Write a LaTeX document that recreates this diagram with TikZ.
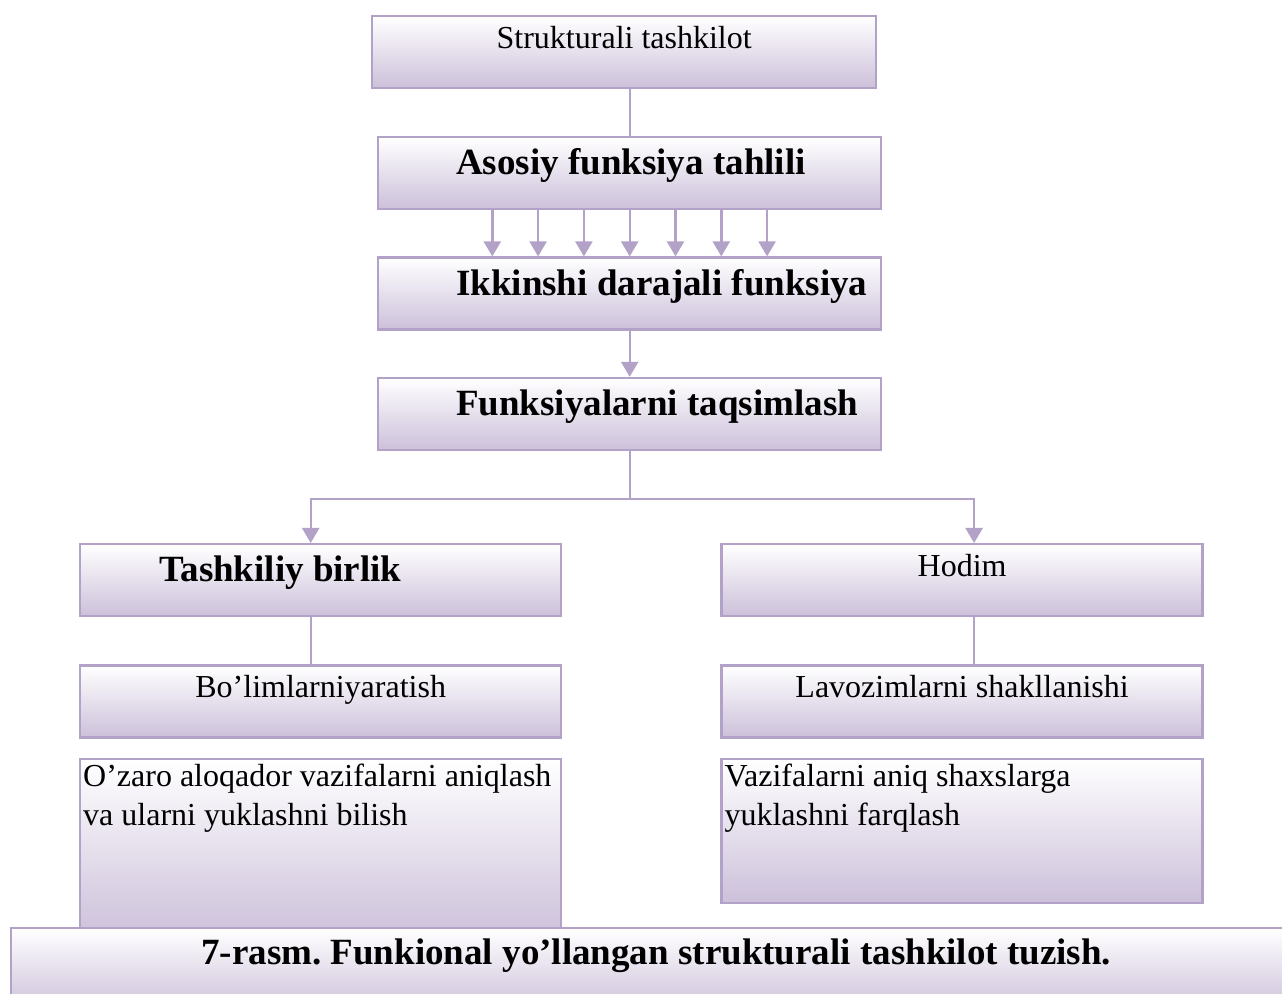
\documentclass[tikz,border=0pt]{standalone}
\usepackage{fontspec}
\setmainfont{Liberation Serif}
\usepackage{tikz}
\usetikzlibrary{arrows.meta, positioning}
\definecolor{lavline}{RGB}{178, 162, 199}
\definecolor{lavfill}{RGB}{204, 192, 218}
\frenchspacing

\begin{document}
\begin{tikzpicture}[
    box/.style={draw=lavline, line width=1.2pt, top color=white, bottom color=lavfill,
                inner sep=0pt, anchor=north west, minimum height=36pt},
    plainbox/.style={box, font=\fontsize{16}{19}\selectfont, text height=16pt, text depth=20pt},
    headbox/.style={box, font=\fontsize{18.5}{22}\selectfont\bfseries, align=flush left,
                    text height=18.75pt, text depth=17.25pt},
    parabox/.style={box, font=\fontsize{16}{19.5}\selectfont, align=flush left, inner xsep=1.5pt,
                    text height=14pt, text depth=#1},
    capbox/.style={box, font=\fontsize{18.5}{22}\selectfont\bfseries, minimum height=41.5pt,
                   text height=18pt, text depth=23.5pt},
    link/.style={draw=lavline, line width=1.2pt},
    arr/.style={link, -{Triangle[width=8.5pt, length=7.5pt]}}
]
    \useasboundingbox (0,0) rectangle (641pt,-497pt);

    % middle column
    \node[plainbox, minimum width=252pt] (strukt) at (185.5pt,-7.5pt) {Strukturali tashkilot};
    \node[headbox, text width=251.5pt] (asosiy) at (188.5pt,-68pt) {\hspace*{39pt}Asosiy funksiya tahlili};
    \node[headbox, text width=251.5pt, below=23pt of asosiy] (ikki) {\hspace*{39pt}Ikkinshi darajali funksiya};
    \node[headbox, text width=251.5pt, below=23pt of ikki] (funk) {\hspace*{39pt}Funksiyalarni taqsimlash};

    % two branches
    \node[headbox, text width=240.5pt] (tash) at (39.5pt,-271.5pt) {\hspace*{39.5pt}Tashkiliy birlik};
    \node[plainbox, minimum width=240.5pt, right=79pt of tash] (hodim) {Hodim};
    \node[plainbox, minimum width=240.5pt, below=23.5pt of tash] (bolim) {Bo’limlarniyaratish};
    \node[plainbox, minimum width=240.5pt, below=23.5pt of hodim] (lavoz) {Lavozimlarni shakllanishi};
    \node[parabox=76pt, text width=237.5pt, below=9.5pt of bolim] (ozaro) {O’zaro aloqador vazifalarni aniqlash\\va ularni yuklashni bilish};
    \node[parabox=58pt, text width=237.5pt, below=9.5pt of lavoz] (vazif) {Vazifalarni aniq shaxslarga\\yuklashni farqlash};

    % caption
    \node[capbox, minimum width=645pt] (caption) at (5pt,-463.5pt) {7-rasm. Funkional yo’llangan strukturali tashkilot tuzish.};

    % connectors
    \draw[link] (asosiy.north) -- (asosiy.north |- strukt.south);
    \foreach \i in {-3,...,3}
        \draw[arr] ([xshift=\i*22.9pt]asosiy.south) -- ([xshift=\i*22.9pt]ikki.north);
    \draw[arr] (ikki.south) -- (funk.north);
    \draw[arr] (funk.south) -- ++(0,-24pt) -| ([xshift=-5pt]tash.north);
    \draw[arr] (funk.south) -- ++(0,-24pt) -| ([xshift=6pt]hodim.north);
    \draw[link] ([xshift=-5pt]tash.south) -- ([xshift=-5pt]bolim.north);
    \draw[link] ([xshift=6pt]hodim.south) -- ([xshift=6pt]lavoz.north);
\end{tikzpicture}
\end{document}
